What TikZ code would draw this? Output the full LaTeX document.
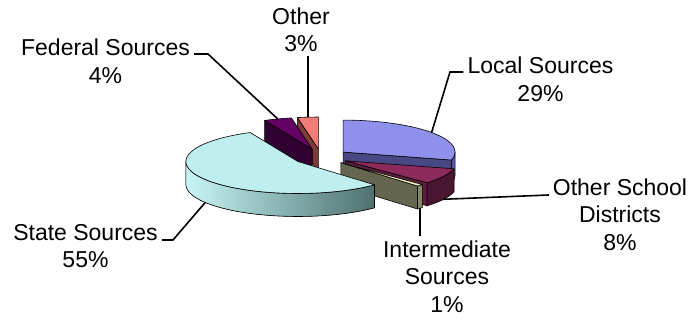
\documentclass[tikz,border=0pt]{standalone}
\usepackage{fontspec}
\setmainfont{Liberation Sans}
\usepackage{tikz}
\usetikzlibrary{calc}

% slice colours: top face, rim, cut face
\definecolor{localtop}{RGB}{143,143,236}
\definecolor{localrim}{RGB}{88,88,160}
\definecolor{localcut}{RGB}{72,72,132}
\definecolor{districttop}{RGB}{140,42,92}
\definecolor{districtrim}{RGB}{74,22,50}
\definecolor{districtcut}{RGB}{92,28,62}
\definecolor{intertop}{RGB}{240,240,190}
\definecolor{interrim}{RGB}{135,135,104}
\definecolor{intercut}{RGB}{102,102,80}
\definecolor{statetop}{RGB}{190,238,238}
\definecolor{stateleft}{RGB}{200,246,246}
\definecolor{statemid}{RGB}{168,218,218}
\definecolor{stateright}{RGB}{78,112,112}
\definecolor{fedtop}{RGB}{100,0,100}
\definecolor{fedcut}{RGB}{48,0,48}
\definecolor{othertop}{RGB}{240,125,120}
\definecolor{othercut}{RGB}{125,60,55}

% pie is 112 x 32 across (radii), 23 thick
% top face of a slice: centre, from, to, colour
\newcommand{\slicetop}[4]{%
  \filldraw[slice, fill=#4] (#1) -- ++(#2:112 and 32)
    arc[start angle=#2, end angle=#3, x radius=112, y radius=32] -- cycle;}
% flat cut face of a slice: centre, angle, colour
\newcommand{\slicecut}[3]{%
  \filldraw[slice, fill=#3] (#1) -- ++(#2:112 and 32) -- ++(0,-23)
    -- ++(#2+180:112 and 32) -- cycle;}
% outer rim of a slice: centre, from, to, fill options
\newcommand{\slicerim}[4]{%
  \filldraw[slice, #4] (#1) ++(#2:112 and 32)
    arc[start angle=#2, end angle=#3, x radius=112, y radius=32] -- ++(0,-23)
    arc[start angle=#3, end angle=#2, x radius=112, y radius=32] -- cycle;}

\tikzset{
  slice/.style={draw=black, line width=0.6pt, line join=round},
  lbl/.style={font=\fontsize{23}{27.5}\selectfont, align=center, inner sep=4pt},
  leader/.style={draw=black, line width=1.6pt},
}

\begin{document}
\begin{tikzpicture}[x=1pt, y=1pt]
\useasboundingbox (0,0) rectangle (693,320);

% pie centre and exploded slice centres
\coordinate (O) at (321,163);
\coordinate (cLocal) at ($(O)+(37.8:28 and 8)$);
\coordinate (cDist)  at ($(O)+(-28.8:28 and 8)$);
\coordinate (cInt)   at ($(O)+(-45:28 and 8)$);
\coordinate (cState) at ($(O)+(214.2:28 and 8)$);
\coordinate (cFed)   at ($(O)+(108:28 and 8)$);
\coordinate (cOther) at ($(O)+(95.4:28 and 8)$);

% back slices first
\slicecut{cOther}{100.8}{othercut}
\slicetop{cOther}{90}{100.8}{othertop}
\slicecut{cFed}{115.2}{fedcut}
\slicetop{cFed}{100.8}{115.2}{fedtop}

% Local Sources
\slicecut{cLocal}{-14.4}{localcut}
\slicerim{cLocal}{-14.4}{0}{fill=localrim}
\slicetop{cLocal}{-14.4}{90}{localtop}

% Other School Districts
\slicecut{cDist}{-43.2}{districtcut}
\slicerim{cDist}{-43.2}{-14.4}{fill=districtrim}
\slicetop{cDist}{-43.2}{-14.4}{districttop}

% Intermediate Sources
\slicecut{cInt}{-46.8}{intercut}
\slicerim{cInt}{-46.8}{-43.2}{fill=interrim}
\slicetop{cInt}{-46.8}{-43.2}{intertop}

% State Sources
\slicerim{cState}{180}{313.2}{left color=stateleft, middle color=statemid, right color=stateright}
\slicetop{cState}{115.2}{313.2}{statetop}

% leader end points on the slices
\coordinate (pLocal) at ($(cLocal)+(37.8:112 and 32)$);
\coordinate (pDist)  at ($(cDist)+(-28.8:112 and 32)+(0,-23)$);
\coordinate (pInt)   at ($(cInt)+(-45:112 and 32)+(0,-23)$);
\coordinate (pState) at ($(cState)+(214.2:112 and 32)+(0,-23)$);
\coordinate (pFed)   at ($(cFed)+(108:112 and 32)$);
\coordinate (pOther) at ($(cOther)+(95.4:112 and 32)$);

% labels
\node[lbl] (lblOther) at (301,290) {Other\\3\%};
\node[lbl] (lblLocal) at (540.5,240.5) {Local Sources\\29\%};
\node[lbl] (lblFed)   at (105.5,259) {Federal Sources\\4\%};
\node[lbl] (lblState) at (85.5,74) {State Sources\\55\%};
\node[lbl] (lblDist)  at (620,105.5) {Other School\\Districts\\8\%};
\node[lbl] (lblInt)   at (447,43.5) {Intermediate\\Sources\\1\%};

% elbows of the leader lines
\coordinate (eLocal) at (450,248);
\coordinate (eFed)   at (208,266);
\coordinate (eState) at (173,80);
\coordinate (eDist)  at (549,125);

\draw[leader] (pLocal) -- (eLocal) -- (lblLocal.west |- eLocal);
\draw[leader] (pFed) -- (eFed) -- (lblFed.east |- eFed);
\draw[leader] (pState) -- (eState) -- (lblState.east |- eState);
\draw[leader] (pDist) -- (eDist);
\draw[leader] (pOther) -- (pOther |- lblOther.south);
\draw[leader] (pInt) -- (pInt |- lblInt.north);
\end{tikzpicture}
\end{document}
